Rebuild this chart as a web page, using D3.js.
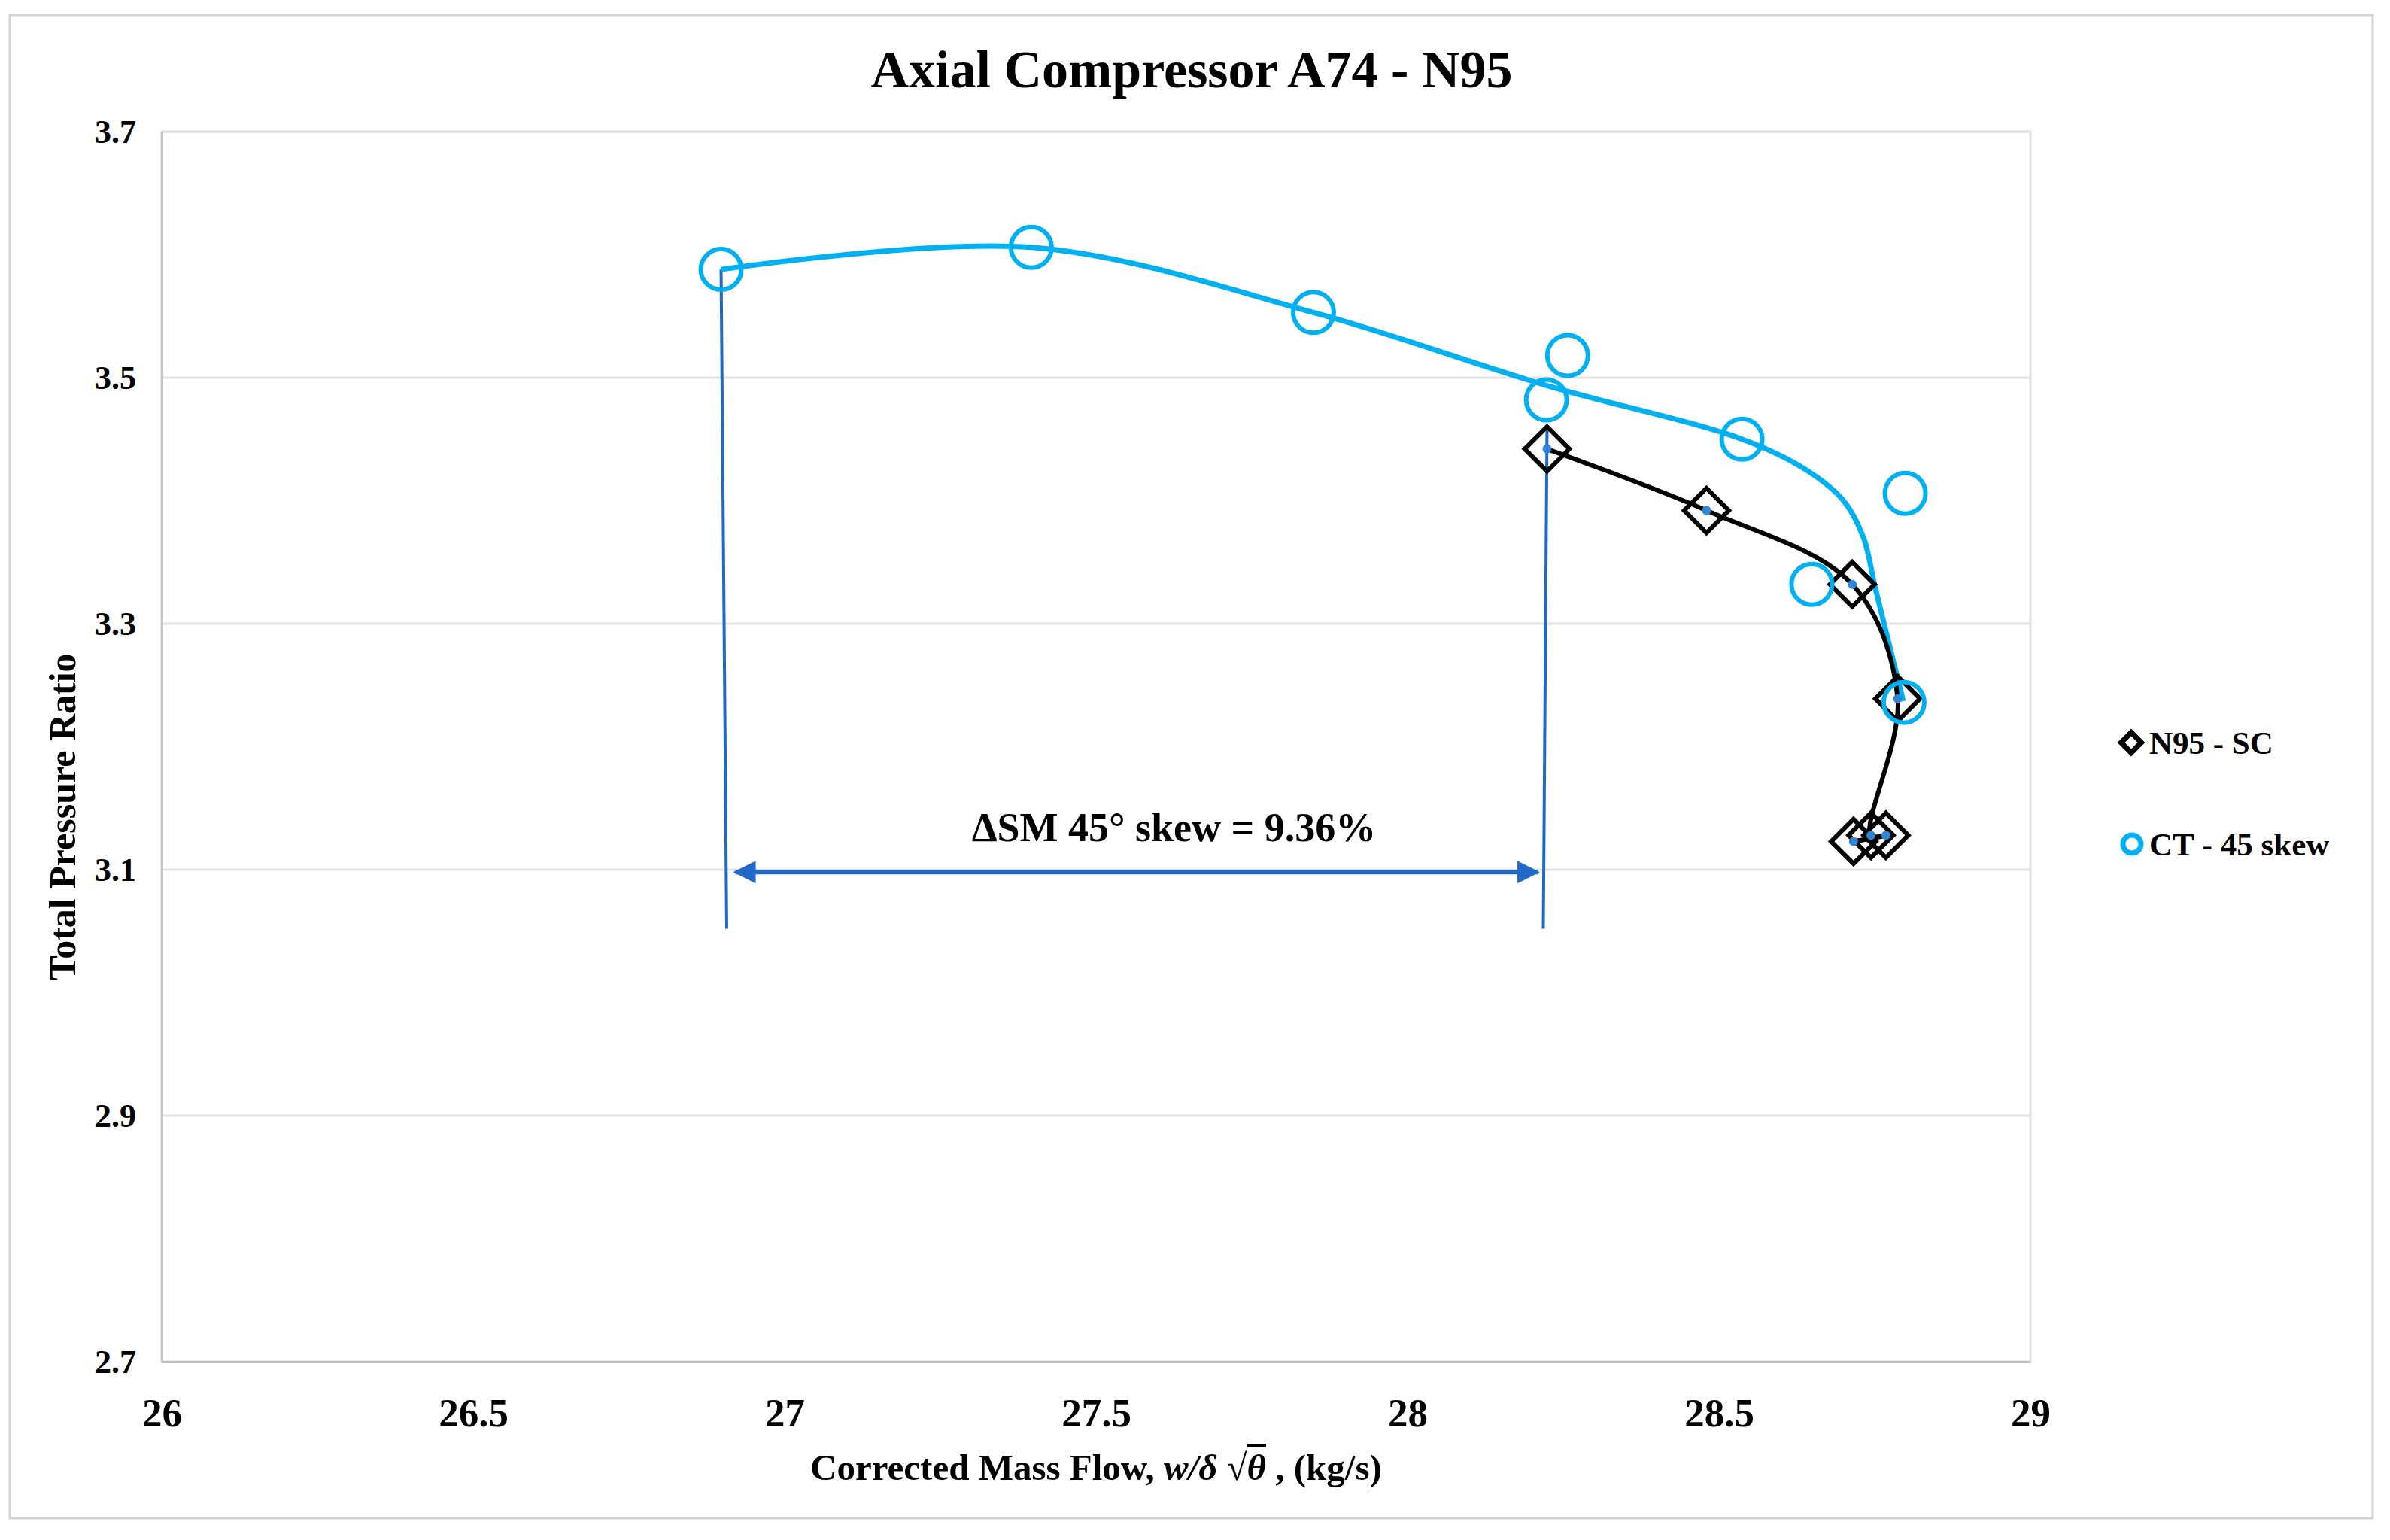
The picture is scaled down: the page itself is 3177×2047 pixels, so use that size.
<!DOCTYPE html>
<html>
<head>
<meta charset="utf-8">
<script src="https://cdn.jsdelivr.net/npm/d3@7"></script>
<style>
  body { margin: 0; background: #fff; }
  text { font-family: "Liberation Serif", "Times New Roman", serif; font-weight: bold; }
</style>
</head>
<body>
<svg id="chart" width="3177" height="2047"></svg>
<script>
// N95 - SC (diamonds + black smooth line)
const n95Flow = [28.224, 28.480, 28.714, 28.787, 28.744, 28.768, 28.716];
const n95PR   = [3.442, 3.392, 3.332, 3.239, 3.128, 3.128, 3.123];

// CT - 45 skew (circles)
const ctFlow = [26.898, 27.396, 27.849, 28.257, 28.223, 28.537, 28.799, 28.649, 28.797];
const ctPR   = [3.588, 3.606, 3.553, 3.518, 3.482, 3.450, 3.406, 3.332, 3.236];

// CT - 45 skew smoothed curve
const ctCurveFlow = [26.898, 27.396, 27.849, 28.221, 28.537, 28.640, 28.700, 28.732, 28.751, 28.796];
const ctCurvePR   = [3.588, 3.606, 3.553, 3.494, 3.450, 3.425, 3.400, 3.370, 3.329, 3.237];

// stall margin annotation
const smLeftLine  = [[26.898, 3.588], [26.907, 3.052]];
const smRightLine = [[28.224, 3.460], [28.218, 3.052]];
const smArrow     = [[26.921, 3.098], [28.209, 3.098]];
const smLabel = "ΔSM 45° skew = 9.36%";

const xTicks = [26, 26.5, 27, 27.5, 28, 28.5, 29];
const yTicks = [2.7, 2.9, 3.1, 3.3, 3.5, 3.7];

const seriesNames = ["N95 - SC", "CT - 45 skew"];

const svg = d3.select("#chart");
const plot = {left: 215, right: 2699, top: 175, bottom: 1810};

const x = d3.scaleLinear().domain([26, 29]).range([plot.left, plot.right]);
const y = d3.scaleLinear().domain([2.7, 3.7]).range([plot.bottom, plot.top]);

const cyan = "#00b0f0";
const annBlue = "#2169c8";

// outer chart frame
svg.append("rect")
    .attr("x", 13).attr("y", 20)
    .attr("width", 3141).attr("height", 1998)
    .attr("fill", "#fff")
    .attr("stroke", "#d4d4d4")
    .attr("stroke-width", 3);

// title
svg.append("text")
    .attr("x", 1584).attr("y", 116)
    .attr("text-anchor", "middle")
    .attr("font-size", 70)
    .text("Axial Compressor A74 - N95");

// gridlines
svg.append("g")
    .selectAll("line")
    .data(yTicks)
    .join("line")
    .attr("x1", plot.left).attr("x2", plot.right)
    .attr("y1", d => y(d)).attr("y2", d => y(d))
    .attr("stroke", "#e3e3e3")
    .attr("stroke-width", 3);

// plot area border
svg.append("rect")
    .attr("x", plot.left).attr("y", plot.top)
    .attr("width", plot.right - plot.left)
    .attr("height", plot.bottom - plot.top)
    .attr("fill", "none")
    .attr("stroke", "#e0e0e0")
    .attr("stroke-width", 3);

// axes
const xAxis = svg.append("g")
    .attr("transform", "translate(0," + plot.bottom + ")")
    .call(d3.axisBottom(x).tickValues(xTicks).tickSize(0).tickPadding(48).tickFormat(d3.format("")));
xAxis.select(".domain").attr("stroke", "#c4c4c4").attr("stroke-width", 3);
xAxis.selectAll("text")
    .attr("font-size", 53)
    .attr("fill", "#000")
    .attr("font-family", "Liberation Serif, serif")
    .attr("font-weight", "bold");

const yAxis = svg.append("g")
    .attr("transform", "translate(" + plot.left + ",0)")
    .call(d3.axisLeft(y).tickValues(yTicks).tickSize(0).tickPadding(34).tickFormat(d3.format(".1f")));
yAxis.select(".domain").attr("stroke", "#c4c4c4").attr("stroke-width", 3);
yAxis.selectAll("text")
    .attr("font-size", 44)
    .attr("fill", "#000")
    .attr("font-family", "Liberation Serif, serif")
    .attr("font-weight", "bold");

// axis titles
const xTitle = svg.append("text")
    .attr("x", 1457).attr("y", 1967)
    .attr("text-anchor", "middle")
    .attr("font-size", 49);
xTitle.append("tspan").text("Corrected Mass Flow, ");
xTitle.append("tspan").attr("font-style", "italic").text("w/δ");
xTitle.append("tspan").text(" √");
xTitle.append("tspan").attr("font-style", "italic").attr("text-decoration", "overline").text("θ");
xTitle.append("tspan").text(" , (kg/s)");

svg.append("text")
    .attr("transform", "translate(100,1086) rotate(-90)")
    .attr("text-anchor", "middle")
    .attr("font-size", 50)
    .text("Total Pressure Ratio");

// annotation
const defs = svg.append("defs");
defs.append("marker")
    .attr("id", "arrowEnd")
    .attr("viewBox", "0 0 10 10")
    .attr("refX", 9).attr("refY", 5)
    .attr("markerWidth", 5).attr("markerHeight", 5)
    .attr("markerUnits", "strokeWidth")
    .attr("orient", "auto-start-reverse")
    .append("path")
    .attr("d", "M0,0 L10,5 L0,10 z")
    .attr("fill", annBlue);

const straight = d3.line().x(d => x(d[0])).y(d => y(d[1]));

[smLeftLine, smRightLine].forEach(l => {
    svg.append("path")
        .attr("d", straight(l))
        .attr("stroke", annBlue)
        .attr("stroke-width", 4)
        .attr("fill", "none");
});

svg.append("path")
    .attr("d", straight(smArrow))
    .attr("stroke", annBlue)
    .attr("stroke-width", 6)
    .attr("fill", "none")
    .attr("marker-start", "url(#arrowEnd)")
    .attr("marker-end", "url(#arrowEnd)");

svg.append("text")
    .attr("x", x(27.625)).attr("y", y(3.123))
    .attr("text-anchor", "middle")
    .attr("font-size", 54)
    .text(smLabel);

// CT smooth curve
const ctCurve = ctCurveFlow.map((f, i) => [f, ctCurvePR[i]]);
svg.append("path")
    .datum(ctCurve)
    .attr("d", d3.line().x(d => x(d[0])).y(d => y(d[1])).curve(d3.curveCatmullRom.alpha(0.5)))
    .attr("stroke", cyan)
    .attr("stroke-width", 7)
    .attr("fill", "none");

// N95 smooth line
const n95 = n95Flow.map((f, i) => [f, n95PR[i]]);
svg.append("path")
    .datum(n95)
    .attr("d", d3.line().x(d => x(d[0])).y(d => y(d[1])).curve(d3.curveCatmullRom.alpha(0.5)))
    .attr("stroke", "#000")
    .attr("stroke-width", 6)
    .attr("fill", "none");

// N95 diamonds
const diamond = d3.symbol().type(d3.symbolSquare).size(42 * 42);
svg.append("g")
    .selectAll("path")
    .data(n95)
    .join("path")
    .attr("d", diamond)
    .attr("transform", d => "translate(" + x(d[0]) + "," + y(d[1]) + ") rotate(45)")
    .attr("fill", "none")
    .attr("stroke", "#000")
    .attr("stroke-width", 6);

// small blue centre dots
svg.append("g")
    .selectAll("circle")
    .data(n95)
    .join("circle")
    .attr("cx", d => x(d[0]))
    .attr("cy", d => y(d[1]))
    .attr("r", 6)
    .attr("fill", "#2e86d6");

// CT circles
const ct = ctFlow.map((f, i) => [f, ctPR[i]]);
svg.append("g")
    .selectAll("circle")
    .data(ct)
    .join("circle")
    .attr("cx", d => x(d[0]))
    .attr("cy", d => y(d[1]))
    .attr("r", 27)
    .attr("fill", "none")
    .attr("stroke", cyan)
    .attr("stroke-width", 6);

// legend
const legend = svg.append("g").attr("transform", "translate(2833,0)");
legend.append("path")
    .attr("d", d3.symbol().type(d3.symbolSquare).size(19 * 19))
    .attr("transform", "translate(0,987) rotate(45)")
    .attr("fill", "none")
    .attr("stroke", "#000")
    .attr("stroke-width", 7);
legend.append("text")
    .attr("x", 24).attr("y", 1002)
    .attr("font-size", 43)
    .text(seriesNames[0]);
legend.append("circle")
    .attr("cx", 1).attr("cy", 1122)
    .attr("r", 12)
    .attr("fill", "none")
    .attr("stroke", cyan)
    .attr("stroke-width", 7);
legend.append("text")
    .attr("x", 24).attr("y", 1137)
    .attr("font-size", 43)
    .text(seriesNames[1]);
</script>
</body>
</html>
